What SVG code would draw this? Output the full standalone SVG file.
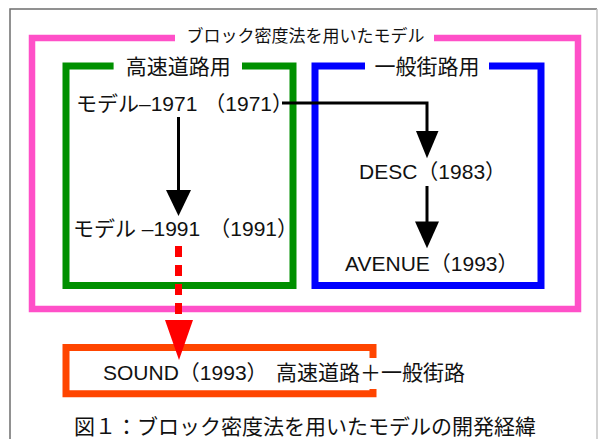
<svg xmlns="http://www.w3.org/2000/svg" width="598" height="439" viewBox="0 0 598 439">
<style>
text{font-family:"Noto Sans CJK JP","Liberation Sans",sans-serif;fill:#111}
.lbl{font-family:"Liberation Sans","Noto Sans CJK JP",sans-serif;font-size:21px}
.frame{fill:none;stroke-linecap:butt;stroke-linejoin:miter}
.conn{fill:none;stroke:#000;stroke-width:3}
.head{fill:#000}
</style>
<rect x="0" y="0" width="598" height="439" fill="#fff"/>
<g id="border">
<path d="M10,439 V9 H597" fill="none" stroke="#6e6e6e" stroke-width="1.5"/>
<path d="M597,9 V439" fill="none" stroke="#c4c4c4" stroke-width="1.5"/>
</g>
<g id="block-density-group">
<path class="frame" d="M175,38 H32 V309 H578 V38 H434" stroke="#ff50c8" stroke-width="6.5"/>
<text x="305.5" y="42" font-size="17" text-anchor="middle">ブロック密度法を用いたモデル</text>
</g>
<g id="highway-group">
<path class="frame" d="M113.6,66 H66 V285.5 H293 V66 H242" stroke="#009000" stroke-width="7"/>
<text x="178.3" y="74" font-size="21" text-anchor="middle">高速道路用</text>
</g>
<g id="street-group">
<path class="frame" d="M365,66 H315 V285.5 H541 V66 H489" stroke="#0000ff" stroke-width="7"/>
<text x="427" y="74" font-size="21" text-anchor="middle">一般街路用</text>
</g>
<g id="model-1971">
<text class="lbl" x="76" y="111">モデル–1971</text>
<text class="lbl" x="293" y="111" text-anchor="end">（1971）</text>
</g>
<g id="model-1991">
<text class="lbl" x="73" y="236">モデル –1991</text>
<text class="lbl" x="298" y="236" text-anchor="end">（1991）</text>
</g>
<g id="desc">
<text class="lbl" x="359" y="179">DESC（1983）</text>
</g>
<g id="avenue">
<text class="lbl" x="345" y="271">AVENUE（1993）</text>
</g>
<g id="sound">
<path class="frame" d="M373,358 V347.5 H66 V393.7 H373 V389" stroke="#ff4500" stroke-width="7"/>
<text class="lbl" x="103" y="380">SOUND（1993）</text>
<text class="lbl" x="276" y="380">高速道路＋一般街路</text>
</g>
<g id="connectors">
<path class="conn" d="M282,103 H427 V133"/>
<polygon class="head" points="416,131 438.5,131 427,158.3"/>
<path class="conn" d="M178.5,117 V190"/>
<polygon class="head" points="166,190 191,190 178.5,216"/>
<path class="conn" d="M427,186 V223"/>
<polygon class="head" points="415,221.5 439,221.5 427,248.3"/>
<path d="M178.5,246 V318" fill="none" stroke="#ff0000" stroke-width="7" stroke-dasharray="11 8"/>
<polygon points="165,320 193,320 179,360" fill="#ff0000"/>
</g>
<g id="caption">
<text x="74" y="434" font-size="21">図１：ブロック密度法を用いたモデルの開発経緯</text>
</g>
</svg>
